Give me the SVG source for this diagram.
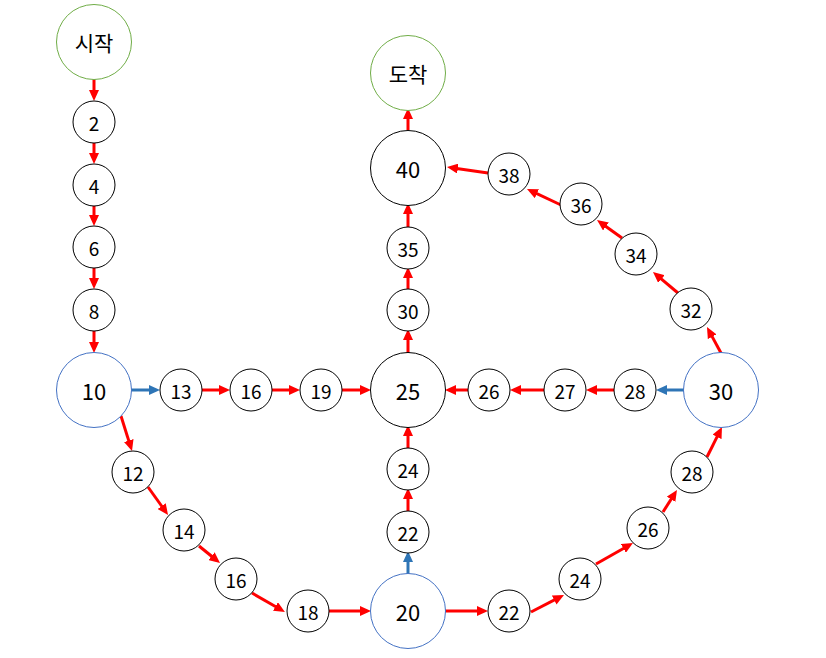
<svg xmlns="http://www.w3.org/2000/svg" width="826" height="658" viewBox="0 0 826 658">
<style>
.n{fill:#fff;stroke:#000;stroke-width:1}
.b{fill:#fff;stroke:#4472C4;stroke-width:1}
.g{fill:#fff;stroke:#70AD47;stroke-width:1}
text{font-family:"Noto Sans CJK KR","Noto Sans",sans-serif;fill:#000;text-anchor:middle;dominant-baseline:central}
.s{font-size:19px}
.L{font-size:22px}
.k{font-size:21px}
.r{stroke:#FF0000;stroke-width:3;fill:none;marker-end:url(#ar)}
.u{stroke:#2E75B6;stroke-width:3;fill:none;marker-end:url(#ab)}
</style>
<defs>
<marker id="ar" markerUnits="userSpaceOnUse" markerWidth="11" markerHeight="10" refX="3" refY="5" orient="auto"><path d="M0,0 L11,5 L0,10 z" fill="#FF0000"/></marker>
<marker id="ab" markerUnits="userSpaceOnUse" markerWidth="11" markerHeight="10" refX="3" refY="5" orient="auto"><path d="M0,0 L11,5 L0,10 z" fill="#2E75B6"/></marker>
</defs>
<rect width="826" height="658" fill="#fff"/>
<g id="connectors">
<line class="r" x1="94" y1="79" x2="94" y2="93"/>
<line class="r" x1="94" y1="143" x2="94" y2="156"/>
<line class="r" x1="94" y1="206" x2="94" y2="218"/>
<line class="r" x1="94" y1="268" x2="94" y2="281"/>
<line class="r" x1="94" y1="331" x2="94" y2="345"/>
<line class="u" x1="131" y1="390" x2="152" y2="390"/>
<line class="r" x1="202" y1="390" x2="222" y2="390"/>
<line class="r" x1="272" y1="390" x2="292" y2="390"/>
<line class="r" x1="342" y1="390" x2="363" y2="390"/>
<line class="r" x1="468" y1="390" x2="453" y2="390"/>
<line class="r" x1="544" y1="390" x2="518" y2="390"/>
<line class="r" x1="614" y1="390" x2="594" y2="390"/>
<line class="u" x1="684" y1="390" x2="664" y2="390"/>
<line class="r" x1="121" y1="416" x2="129.6" y2="443.4"/>
<line class="r" x1="148" y1="487" x2="163.4" y2="508.5"/>
<line class="r" x1="199" y1="546" x2="213.8" y2="558"/>
<line class="r" x1="252" y1="593" x2="278" y2="608"/>
<line class="r" x1="329" y1="611" x2="363" y2="611"/>
<line class="r" x1="445" y1="611" x2="480" y2="611"/>
<line class="r" x1="531" y1="612" x2="556.9" y2="598.7"/>
<line class="r" x1="596" y1="564" x2="626" y2="547"/>
<line class="r" x1="663" y1="512" x2="672.7" y2="496.7"/>
<line class="r" x1="707" y1="457" x2="718.4" y2="434.2"/>
<line class="r" x1="721" y1="353" x2="710.8" y2="334.1"/>
<line class="r" x1="678" y1="293" x2="659.1" y2="277.1"/>
<line class="r" x1="622" y1="238" x2="603.5" y2="224.7"/>
<line class="r" x1="561" y1="205" x2="534.2" y2="192.4"/>
<line class="r" x1="488" y1="173" x2="454.9" y2="168.2"/>
<line class="u" x1="408" y1="574" x2="408" y2="559"/>
<line class="r" x1="408" y1="511" x2="408" y2="496"/>
<line class="r" x1="408" y1="448" x2="408" y2="433"/>
<line class="r" x1="408" y1="353" x2="408" y2="337"/>
<line class="r" x1="408" y1="289" x2="408" y2="275"/>
<line class="r" x1="408" y1="227" x2="408" y2="211"/>
<line class="r" x1="408" y1="130" x2="408" y2="116"/>
</g>
<g id="start"><circle class="g" cx="94" cy="42" r="37.5"/><text class="k" x="94" y="42">시작</text></g>
<g id="n2"><circle class="n" cx="94" cy="122" r="21"/><text class="s" x="94" y="122">2</text></g>
<g id="n4"><circle class="n" cx="94" cy="185" r="21"/><text class="s" x="94" y="185">4</text></g>
<g id="n6"><circle class="n" cx="94" cy="247" r="21"/><text class="s" x="94" y="247">6</text></g>
<g id="n8"><circle class="n" cx="94" cy="310" r="21"/><text class="s" x="94" y="310">8</text></g>
<g id="n10"><circle class="b" cx="94" cy="390" r="37.5"/><text class="L" x="94" y="390">10</text></g>
<g id="n13"><circle class="n" cx="181" cy="390" r="21"/><text class="s" x="181" y="390">13</text></g>
<g id="n16a"><circle class="n" cx="251" cy="390" r="21"/><text class="s" x="251" y="390">16</text></g>
<g id="n19"><circle class="n" cx="321" cy="390" r="21"/><text class="s" x="321" y="390">19</text></g>
<g id="n25"><circle class="n" cx="408" cy="390" r="37.5"/><text class="L" x="408" y="390">25</text></g>
<g id="n26a"><circle class="n" cx="489" cy="390" r="21"/><text class="s" x="489" y="390">26</text></g>
<g id="n27"><circle class="n" cx="565" cy="390" r="21"/><text class="s" x="565" y="390">27</text></g>
<g id="n28a"><circle class="n" cx="635" cy="390" r="21"/><text class="s" x="635" y="390">28</text></g>
<g id="n30a"><circle class="b" cx="721" cy="390" r="37.5"/><text class="L" x="721" y="390">30</text></g>
<g id="n12"><circle class="n" cx="133" cy="472" r="21"/><text class="s" x="133" y="472">12</text></g>
<g id="n14"><circle class="n" cx="184" cy="530" r="21"/><text class="s" x="184" y="530">14</text></g>
<g id="n16b"><circle class="n" cx="236" cy="579" r="21"/><text class="s" x="236" y="579">16</text></g>
<g id="n18"><circle class="n" cx="308" cy="611" r="21"/><text class="s" x="308" y="611">18</text></g>
<g id="n20"><circle class="b" cx="408" cy="611" r="37.5"/><text class="L" x="408" y="611">20</text></g>
<g id="n22a"><circle class="n" cx="509" cy="611" r="21"/><text class="s" x="509" y="611">22</text></g>
<g id="n24a"><circle class="n" cx="580" cy="579" r="21"/><text class="s" x="580" y="579">24</text></g>
<g id="n26b"><circle class="n" cx="648" cy="528" r="21"/><text class="s" x="648" y="528">26</text></g>
<g id="n28b"><circle class="n" cx="692" cy="472" r="21"/><text class="s" x="692" y="472">28</text></g>
<g id="n22b"><circle class="n" cx="408" cy="532" r="21"/><text class="s" x="408" y="532">22</text></g>
<g id="n24b"><circle class="n" cx="408" cy="469" r="21"/><text class="s" x="408" y="469">24</text></g>
<g id="n30b"><circle class="n" cx="408" cy="310" r="21"/><text class="s" x="408" y="310">30</text></g>
<g id="n35"><circle class="n" cx="408" cy="248" r="21"/><text class="s" x="408" y="248">35</text></g>
<g id="n40"><circle class="n" cx="408" cy="168" r="37.5"/><text class="L" x="408" y="168">40</text></g>
<g id="goal"><circle class="g" cx="408" cy="73" r="37.5"/><text class="k" x="408" y="73">도착</text></g>
<g id="n38"><circle class="n" cx="509" cy="174" r="21"/><text class="s" x="509" y="174">38</text></g>
<g id="n36"><circle class="n" cx="581" cy="204" r="21"/><text class="s" x="581" y="204">36</text></g>
<g id="n34"><circle class="n" cx="636" cy="254" r="21"/><text class="s" x="636" y="254">34</text></g>
<g id="n32"><circle class="n" cx="691" cy="309" r="21"/><text class="s" x="691" y="309">32</text></g>
</svg>
